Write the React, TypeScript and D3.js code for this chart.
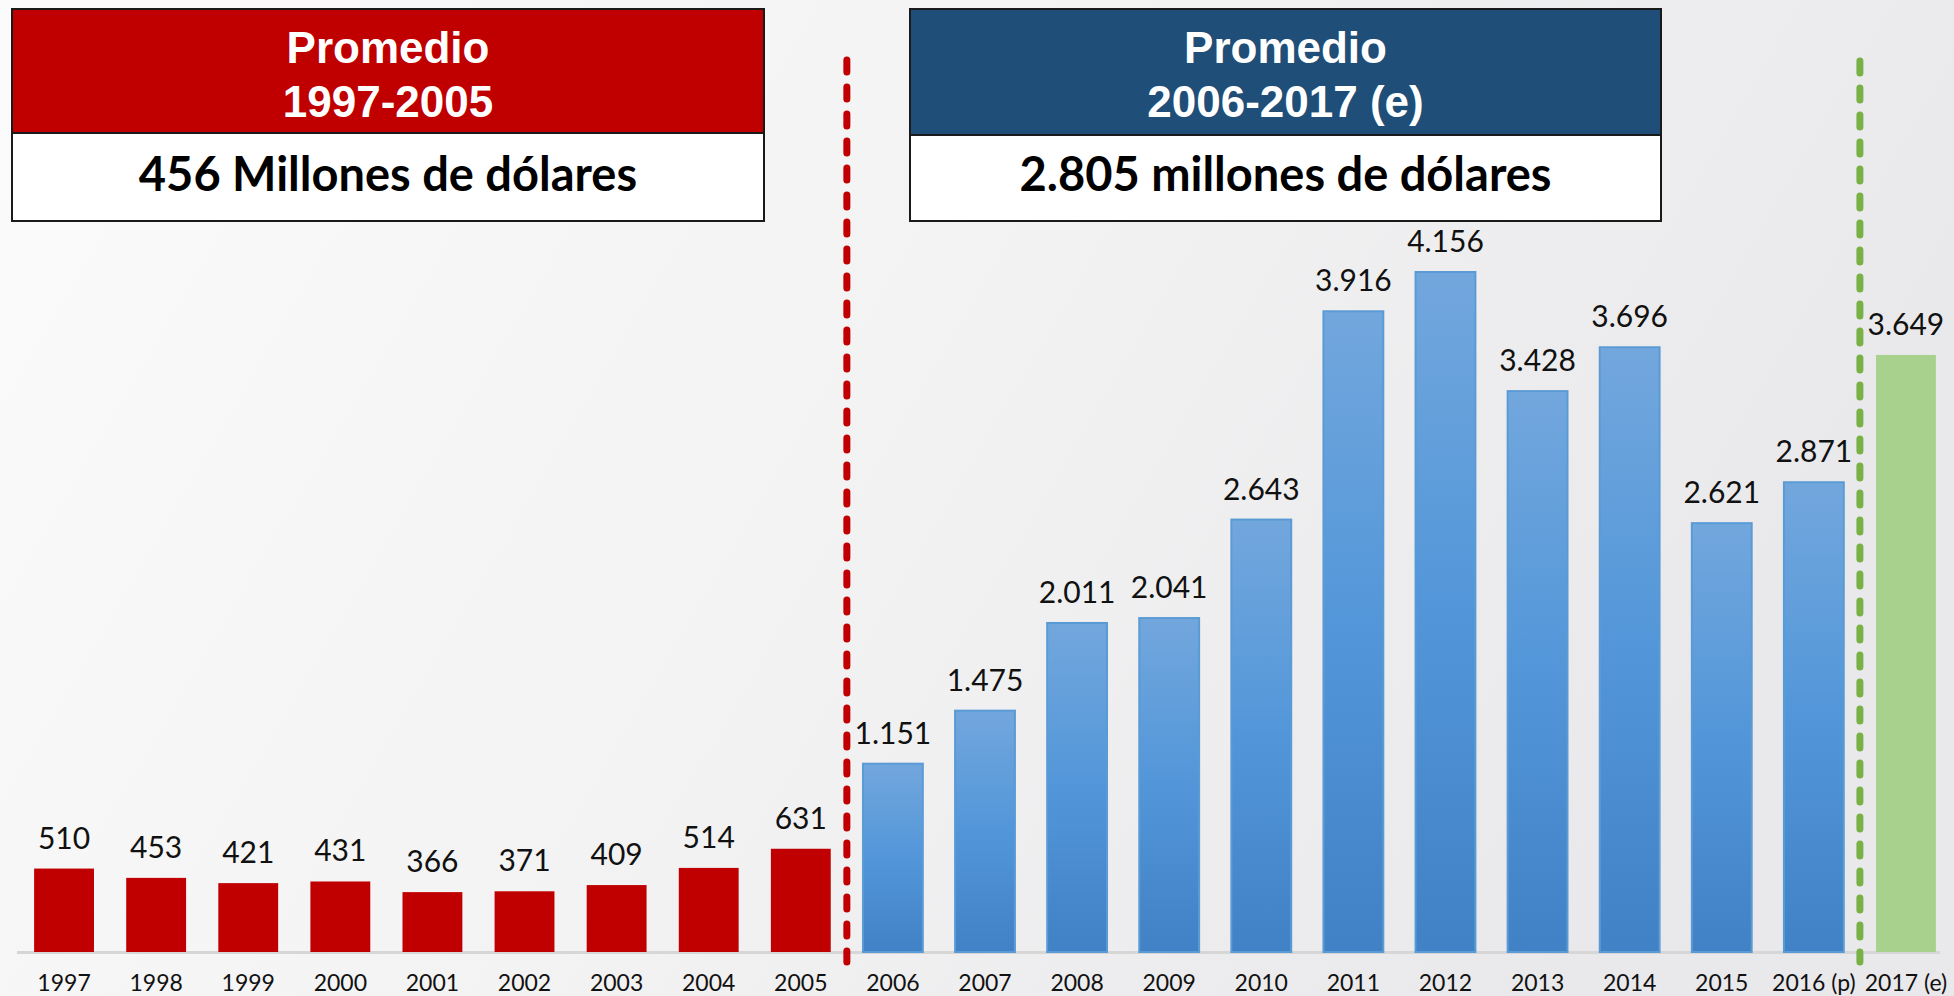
import * as d3 from 'd3'

const W = 1954
const H = 996

const years = [
  '1997', '1998', '1999', '2000', '2001', '2002', '2003', '2004', '2005',
  '2006', '2007', '2008', '2009', '2010', '2011', '2012', '2013', '2014', '2015', '2016 (p)',
  '2017 (e)',
]
const redValues = [510, 453, 421, 431, 366, 371, 409, 514, 631]
const blueValues = [1151, 1475, 2011, 2041, 2643, 3916, 4156, 3428, 3696, 2621, 2871]
const greenValues = [3649]

const leftTitle = ['Promedio', '1997-2005']
const leftAvg = '456 Millones de dólares'
const rightTitle = ['Promedio', '2006-2017 (e)']
const rightAvg = '2.805 millones de dólares'

const RED = '#c00000'
const NAVY = '#1f4e79'
const GREEN = '#a9d18e'

const fmt = d3.formatLocale({ decimal: ',', thousands: '.', grouping: [3], currency: ['$', ''] }).format(',d')

export default function App() {
  const values = [...redValues, ...blueValues, ...greenValues]
  const groups = [
    ...redValues.map(() => 'red'),
    ...blueValues.map(() => 'blue'),
    ...greenValues.map(() => 'green'),
  ]

  const x = d3.scaleBand<string>()
    .domain(years)
    .range([18, 1952])
    .paddingInner(0.35)
    .paddingOuter(0.175)

  const y = d3.scaleLinear().domain([0, 4156]).range([952, 272])
  const base = y(0)

  // separators sit between the groups
  const sepRed = (x('2005')! + x.bandwidth() + x('2006')!) / 2
  const sepGreen = (x('2016 (p)')! + x.bandwidth() + x('2017 (e)')!) / 2

  const labelFont = 'Lato, "Noto Sans", sans-serif'
  const headFont = '"Liberation Sans", Arial, sans-serif'

  const box = (x0: number, x1: number, fill: string, title: string[], avg: string, mid: number) => {
    const cx = (x0 + x1) / 2
    return (
      <g>
        <rect x={x0} y={9} width={x1 - x0} height={mid - 9} fill={fill} stroke="#1a1a1a" strokeWidth={2} />
        <rect x={x0} y={mid} width={x1 - x0} height={221 - mid} fill="#ffffff" stroke="#1a1a1a" strokeWidth={2} />
        <text x={cx} y={63} textAnchor="middle" fill="#fff" fontFamily={headFont} fontWeight="bold" fontSize={44}>{title[0]}</text>
        <text x={cx} y={117} textAnchor="middle" fill="#fff" fontFamily={headFont} fontWeight="bold" fontSize={44}>{title[1]}</text>
        <text x={cx} y={191} textAnchor="middle" fill="#000" fontFamily={labelFont} fontWeight="bold" fontSize={47}>{avg}</text>
      </g>
    )
  }

  return (
    <svg width={W} height={H} style={{ position: 'absolute', left: 0, top: 0, display: 'block' }}>
      <defs>
        <linearGradient id="bg" x1="0" y1="0" x2="1" y2="0.3">
          <stop offset="0" stopColor="#fbfbfb" />
          <stop offset="0.5" stopColor="#f3f3f4" />
          <stop offset="1" stopColor="#e9e9eb" />
        </linearGradient>
        <linearGradient id="blueBar" x1="0" y1="0" x2="0" y2="1">
          <stop offset="0" stopColor="#72a7dd" />
          <stop offset="0.5" stopColor="#5296d9" />
          <stop offset="1" stopColor="#4181c5" />
        </linearGradient>
      </defs>
      <rect width={W} height={H} fill="url(#bg)" />

      {box(12, 764, RED, leftTitle, leftAvg, 133)}
      {box(910, 1661, NAVY, rightTitle, rightAvg, 135)}

      {/* baseline */}
      <line x1={17} x2={1940} y1={base + 0.5} y2={base + 0.5} stroke="#d6d6d6" strokeWidth={3} />

      {years.map((yr, i) => {
        const v = values[i]
        const g = groups[i]
        const bx = x(yr)!
        const by = y(v)
        const fill = g === 'red' ? RED : g === 'green' ? GREEN : 'url(#blueBar)'
        return (
          <g key={yr}>
            <rect
              x={bx}
              y={by}
              width={x.bandwidth()}
              height={base - by}
              fill={fill}
              stroke={g === 'blue' ? '#5b9bd5' : 'none'}
              strokeWidth={2}
            />
            <text
              x={bx + x.bandwidth() / 2}
              y={by - 20}
              textAnchor="middle"
              fontFamily={labelFont}
              fontSize={30}
              fill="#111"
            >
              {fmt(v)}
            </text>
            <text
              x={bx + x.bandwidth() / 2}
              y={991}
              textAnchor="middle"
              fontFamily={labelFont}
              fontSize={23}
              fill="#111"
            >
              {yr}
            </text>
          </g>
        )
      })}

      <line x1={sepRed} x2={sepRed} y1={60} y2={962} stroke={RED} strokeWidth={7}
        strokeDasharray="12,15" strokeLinecap="round" />
      <line x1={sepGreen} x2={sepGreen} y1={61} y2={962} stroke="#79b146" strokeWidth={7}
        strokeDasharray="12,15" strokeLinecap="round" />
    </svg>
  )
}
